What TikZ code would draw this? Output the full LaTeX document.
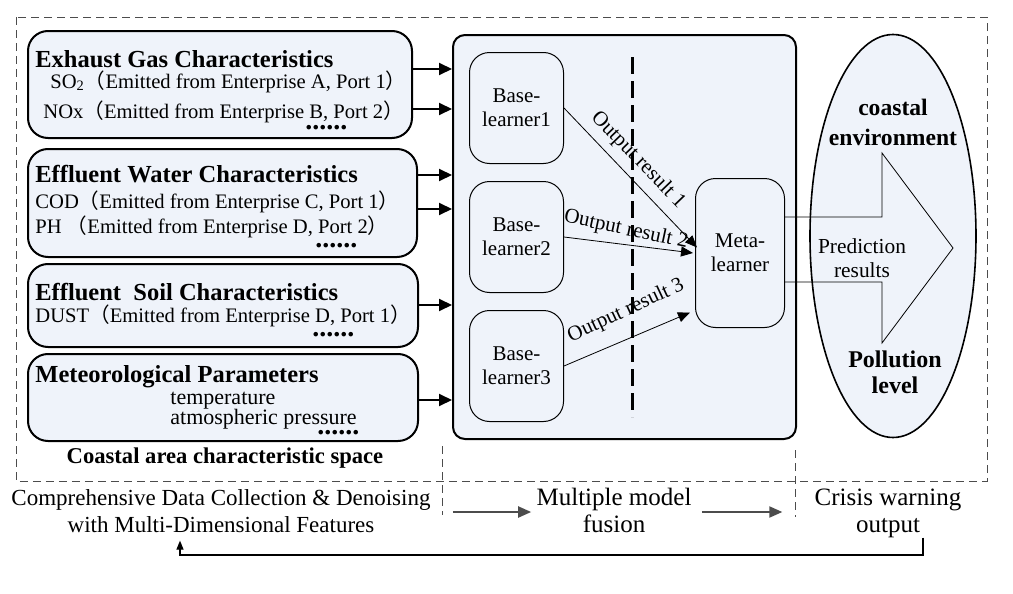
\documentclass[tikz,border=0pt]{standalone}
\usepackage{fontspec}
\setmainfont{Liberation Serif}
\newfontfamily\cjkfont{Noto Sans CJK SC}
\usepackage{tikz}
\usetikzlibrary{positioning}
\usetikzlibrary{shapes.geometric}
\usetikzlibrary{arrows.meta,calc}
\definecolor{boxfill}{RGB}{239,243,250}
\newcommand{\fwl}{{\cjkfont （}}
\newcommand{\fwr}{{\cjkfont ）}}
\tikzset{
  inbox/.style={draw,line width=1pt,rounded corners=10pt,fill=boxfill,anchor=north west,inner sep=0pt},
  learner/.style={draw,line width=0.5pt,rounded corners=10pt,fill=boxfill,anchor=north west,align=center,inner sep=0pt,
    font=\fontsize{10.5}{12}\selectfont,minimum width=47pt,minimum height=55.5pt},
  title/.style={anchor=base west,inner sep=0pt,font=\fontsize{12.25}{14}\selectfont\bfseries},
  item/.style={anchor=base west,inner sep=0pt,font=\fontsize{10.3}{12}\selectfont},
  more/.style={anchor=base west,inner sep=0pt,font=\fontsize{14}{14}\selectfont\bfseries},
  envtext/.style={anchor=base,inner sep=0pt,font=\fontsize{11.8}{14}\selectfont\bfseries},
  lab/.style={inner sep=0pt,font=\fontsize{10.5}{12}\selectfont},
  stage/.style={anchor=base,align=center,inner sep=0pt,font=\fontsize{12.5}{13.5}\selectfont},
  frame/.style={draw=black!70,line width=0.5pt,dash pattern=on 4pt off 2.5pt},
  feed/.style={line width=1pt,-{Triangle[length=6.5pt,width=6pt]}},
  outarr/.style={line width=0.4pt,-{Triangle[length=6pt,width=5pt]}},
  steparr/.style={draw=black!70,line width=1pt,-{Triangle[length=6.5pt,width=5.5pt]}},
  back/.style={line width=0.6pt,-{Triangle[length=4.5pt,width=3.5pt]}}
}
\begin{document}
\begin{tikzpicture}[x=0.5pt,y=-0.5pt]
\useasboundingbox (0,0) rectangle (1013,594);
% frame and stage separators
\draw[frame] (16,17) rectangle (987,481);
\draw[frame] (442,446) -- (442,515);
\draw[frame] (795,450) -- (795,517);

% characteristic space
\node[inbox,minimum width=192pt,minimum height=53.5pt] (gas) at (27,30) {};
\node[inbox,minimum width=194.5pt,minimum height=54pt] (water) at (27,148) {};
\node[inbox,minimum width=195pt,minimum height=41.5pt] (soil) at (27,263) {};
\node[inbox,minimum width=195pt,minimum height=43.5pt] (meteo) at (27,353) {};

\node[title] (gasT) at (35,68) {Exhaust Gas Characteristics};
\node[item] (gasA) at (50,88) {SO\textsubscript{2}\fwl Emitted from Enterprise A, Port 1\fwr};
\node[item] (gasB) at (43,118) {NOx\fwl Emitted from Enterprise B, Port 2\fwr};
\node[more] (gasM) at (305,129) {......};

\node[title] (waterT) at (35,182) {Effluent Water Characteristics};
\node[item] (waterA) at (35,208) {COD\fwl Emitted from Enterprise C, Port 1\fwr};
\node[item] (waterB) at (35,233) {PH \fwl Emitted from Enterprise D, Port 2\fwr};
\node[more] (waterM) at (315,247) {......};

\node[title] (soilT) at (35,300) {Effluent\ \ Soil Characteristics};
\node[item] (soilA) at (35,322) {DUST\fwl Emitted from Enterprise D, Port 1\fwr};
\node[more] (soilM) at (312,336) {......};

\node[title] (meteoT) at (35,382) {Meteorological Parameters};
\node[item,font=\fontsize{11}{12}\selectfont] (meteoA) at (170,404) {temperature};
\node[item,font=\fontsize{11}{12}\selectfont] (meteoB) at (170,424) {atmospheric pressure};
\node[more] (meteoM) at (317,434) {......};

\node[anchor=base,inner sep=0pt,font=\fontsize{11.3}{13}\selectfont\bfseries] (space) at (225,463) {Coastal area characteristic space};

% model fusion
\node[draw,line width=1pt,rounded corners=6pt,fill=boxfill,anchor=north west,inner sep=0pt,
  minimum width=171.5pt,minimum height=202pt] (mid) at (452,34) {};
\draw[line width=1.5pt,dash pattern=on 8.5pt off 3.5pt] (632,57) -- (632,417);
\node[learner] (bl1) at (469,52) {Base-\\learner1};
\node[learner] (bl2) at (469,181) {Base-\\learner2};
\node[learner] (bl3) at (469,310) {Base-\\learner3};
\node[learner,minimum width=44.5pt,minimum height=74.5pt] (meta) at (695,178) {Meta-\\learner};

\foreach \src/\y in {gas/69,gas/109,water/175,water/209,soil/305,meteo/400}
  \draw[feed] (\src.east |- 0,\y) -- (mid.west |- 0,\y);

\draw[outarr] (bl1.east) -- ($(meta.west)+(2,-5.5)$);
\draw[outarr] (bl2.east) -- ($(meta.west)+(-2,0)$);
\draw[outarr] (bl3.east) -- ($(meta.west)+(-5,59.5)$);
\node[lab,rotate=-46] (res1) at (638,160) {Output result 1};
\node[lab,rotate=-12] (res2) at (626,230) {Output result 2};
\node[lab,rotate=25] (res3) at (626,311) {Output result 3};

% warning output
\node[ellipse,draw,line width=0.8pt,fill=boxfill,inner sep=0pt,minimum width=83pt,minimum height=201.5pt] (env) at (893,236) {};
\draw[line width=0.4pt] (meta.east |- 0,217) -- (882,217) -- (882,153) -- (953,248)
  -- (882,343) -- (882,282) -- (meta.east |- 0,282);
\node[envtext] (envA) at (893,115) {coastal};
\node[envtext] (envB) at (893,145) {environment};
\node[anchor=base,inner sep=0pt,font=\fontsize{10.7}{12}\selectfont] (predA) at (862,253) {Prediction};
\node[anchor=base,inner sep=0pt,font=\fontsize{10.7}{12}\selectfont] (predB) at (862,277) {results};
\node[envtext,font=\fontsize{12}{14}\selectfont\bfseries] (polA) at (895,367) {Pollution};
\node[envtext,font=\fontsize{12}{14}\selectfont\bfseries] (polB) at (895,393) {level};

% stages
\node[stage,font=\fontsize{11.5}{13.5}\selectfont] (collect) at (221,532) {Comprehensive Data Collection \& Denoising\\with Multi-Dimensional Features};
\node[stage] (fusion) at (614,532) {Multiple model\\fusion};
\node[stage] (warn) at (888,532) {Crisis warning\\output};
\draw[steparr] ($(collect.east |- 0,512)+(22,0)$) -- ($(fusion.west |- 0,512)+(-5,0)$);
\draw[steparr] ($(fusion.east |- 0,512)+(10,0)$) -- ($(warn.west |- 0,512)+(-32,0)$);
\draw[back] (warn.south -| 923,0) -- (923,555) -- (180,555) -- ($(collect.south -| 180,0)+(0,8)$);
\end{tikzpicture}
\end{document}
